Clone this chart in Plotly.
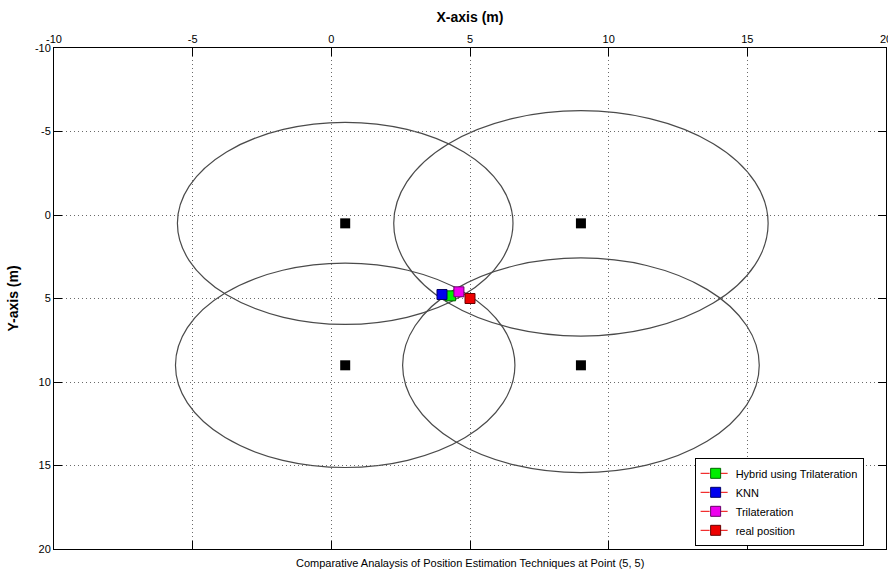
import plotly.graph_objects as go

# Anchor (reference node) positions
anchor_x = [0.5, 9.0, 0.5, 9.0]
anchor_y = [0.5, 0.5, 9.0, 9.0]
# Estimated distance radius drawn around each anchor
anchor_r = [6.05, 6.75, 6.12, 6.43]

# Estimated positions (legend order top to bottom)
est_names = ["Hybrid using Trilateration", "KNN", "Trilateration", "real position"]
est_x = [4.30, 3.99, 4.60, 5.00]
est_y = [4.84, 4.76, 4.60, 5.00]
est_colors = ["#00ee00", "#0000ee", "#ee00ee", "#ee0000"]
est_edges = ["#006600", "#000066", "#660066", "#660000"]

x_ticks = [-10, -5, 0, 5, 10, 15, 20]
y_ticks = [-10, -5, 0, 5, 10, 15, 20]

fig = go.Figure()

fig.add_trace(go.Scatter(
    x=anchor_x, y=anchor_y, mode="markers",
    marker=dict(symbol="square", size=10, color="black"),
    showlegend=False, hoverinfo="skip"))

for name, x, y, c, e in zip(est_names, est_x, est_y, est_colors, est_edges):
    fig.add_trace(go.Scatter(
        x=[x], y=[y], mode="lines+markers", name=name,
        line=dict(color="#ee0000", width=1, dash="dash"),
        marker=dict(symbol="square", size=10, color=c, line=dict(color=e, width=1))))

for cx, cy, r in zip(anchor_x, anchor_y, anchor_r):
    fig.add_shape(type="circle", xref="x", yref="y",
                  x0=cx - r, x1=cx + r, y0=cy - r, y1=cy + r,
                  line=dict(color="#4a4a4a", width=1.2), layer="below")

axis_common = dict(
    showline=True, linecolor="black", linewidth=1, mirror="ticks",
    ticks="inside", ticklen=8, tickcolor="black",
    showgrid=True, gridcolor="#6a6a6a", griddash="1px,3px", gridwidth=1,
    zeroline=False, automargin=False, ticklabeloverflow="allow",
    tickfont=dict(family="Liberation Sans, Arial, sans-serif", size=11, color="black"),
)

fig.update_xaxes(
    range=[-10, 20], tickvals=x_ticks, ticktext=[str(v) for v in x_ticks],
    side="top",
    title=dict(text="<b>X-axis (m)</b>", standoff=6,
               font=dict(family="Liberation Sans, Arial, sans-serif", size=14, color="black")),
    **axis_common)
fig.update_yaxes(
    range=[20, -10], tickvals=y_ticks, ticktext=[str(v) for v in y_ticks],
    title=dict(text="<b>Y-axis (m)</b>", standoff=12,
               font=dict(family="Liberation Sans, Arial, sans-serif", size=14, color="black")),
    **axis_common)

fig.add_annotation(
    text="Comparative Analaysis of Position Estimation Techniques at Point (5, 5)",
    xref="paper", yref="paper", x=0.5, y=0, yanchor="middle", yshift=-14, showarrow=False,
    font=dict(family="Liberation Sans, Arial, sans-serif", size=11, color="black"))

fig.update_layout(
    width=888, height=574,
    margin=dict(l=54, r=2, t=48, b=25),
    paper_bgcolor="white", plot_bgcolor="white",
    showlegend=True,
    legend=dict(x=0.770, y=0.182, xanchor="left", yanchor="top",
                bgcolor="white", bordercolor="black", borderwidth=1,
                font=dict(family="Liberation Sans, Arial, sans-serif", size=11, color="black"),
                tracegroupgap=0),
)

fig.write_html("out.html", config={"displayModeBar": False},
               post_script="document.body.style.margin='0';document.body.style.overflow='hidden';")
